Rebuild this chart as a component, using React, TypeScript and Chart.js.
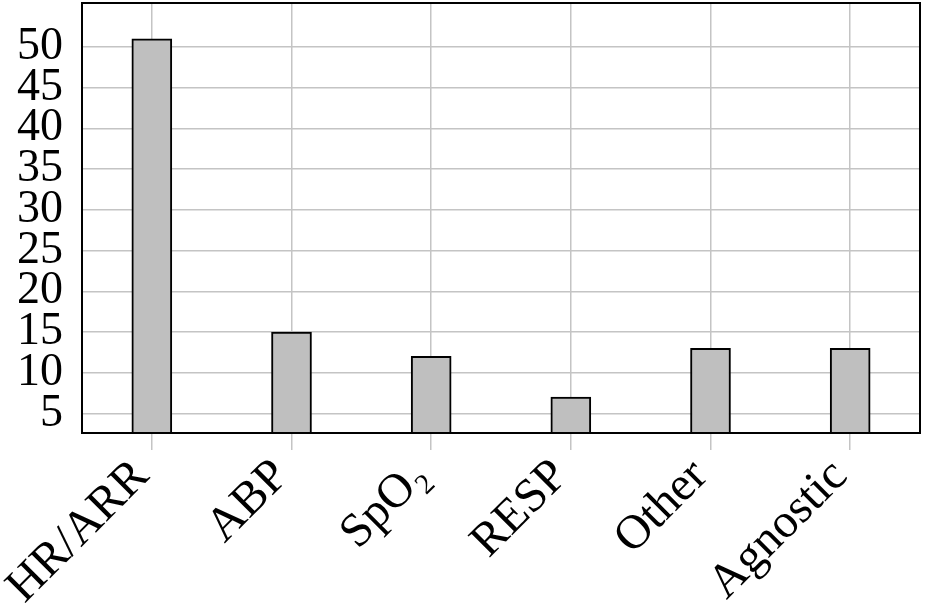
import React, { useEffect, useRef } from "react";
import { Chart, registerables } from "chart.js";

Chart.register(...registerables);

const categories = ["HR/ARR", "ABP", "SpO₂", "RESP", "Other", "Agnostic"];
const counts = [51, 15, 12, 7, 13, 13];
const yTicks = [5, 10, 15, 20, 25, 30, 35, 40, 45, 50];
const yMin = 2.6;
const yMax = 55.4;

const FONT = "'Liberation Serif', 'DejaVu Serif', serif";

const frame = {
  id: "frame",
  afterDraw(chart: any) {
    const { ctx, chartArea } = chart;
    ctx.save();
    ctx.strokeStyle = "#000";
    ctx.lineWidth = 2;
    ctx.strokeRect(chartArea.left, chartArea.top, chartArea.right - chartArea.left, chartArea.bottom - chartArea.top);
    ctx.restore();
  },
};

export default function App() {
  const ref = useRef<HTMLCanvasElement>(null);
  useEffect(() => {
    document.body.style.margin = "0";
    const chart = new Chart(ref.current!, {
      type: "bar",
      data: {
        labels: categories,
        datasets: [
          {
            data: counts,
            backgroundColor: "#bfbfbf",
            borderColor: "#000",
            borderWidth: 2,
            barThickness: 40,
          },
        ],
      },
      plugins: [frame],
      options: {
        animation: false,
        responsive: false,
        maintainAspectRatio: false,
        layout: { padding: { top: 3, right: 5, left: 0, bottom: 0 } },
        plugins: { legend: { display: false }, tooltip: { enabled: false } },
        scales: {
          x: {
            offset: true,
            grid: {
              offset: false,
              color: "#c4c4c4",
              lineWidth: 1.5,
              drawTicks: true,
              tickLength: 17,
              tickColor: "#c4c4c4",
            },
            border: { display: false },
            ticks: {
              color: "#000",
              font: { family: FONT, size: 48, lineHeight: 0.4 },
              minRotation: 45,
              maxRotation: 45,
              padding: 12,
              labelOffset: -10,
              autoSkip: false,
            },
            afterFit(scale: any) {
              scale.height = 171;
              scale.paddingLeft = 0;
              scale.paddingRight = 0;
            },
          },
          y: {
            min: yMin,
            max: yMax,
            grid: { color: "#c4c4c4", lineWidth: 1.5, drawTicks: false },
            border: { display: false },
            ticks: {
              color: "#000",
              font: { family: FONT, size: 46 },
              padding: 19,
              includeBounds: false,
              autoSkip: false,
            },
            afterBuildTicks(scale: any) {
              scale.ticks = yTicks.map((v) => ({ value: v }));
            },
            afterFit(scale: any) {
              scale.width = 82;
              scale.paddingTop = 0;
              scale.paddingBottom = 0;
            },
          },
        },
      },
    });
    return () => chart.destroy();
  }, []);
  return <canvas ref={ref} width={925} height={604} style={{ display: "block" }} />;
}
